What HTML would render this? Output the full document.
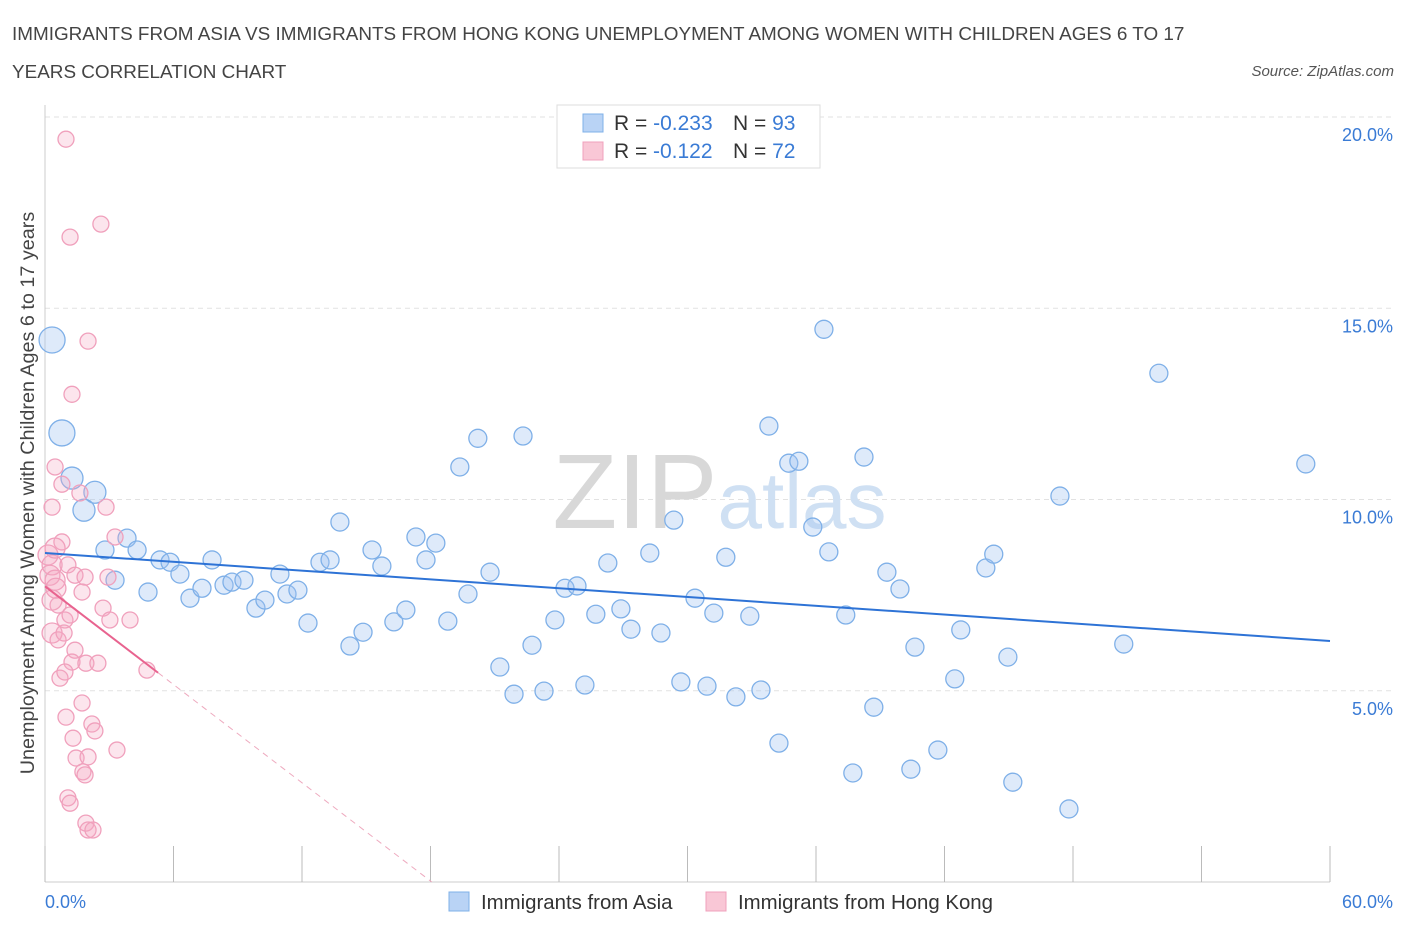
<!DOCTYPE html>
<html><head><meta charset="utf-8"><style>
body{margin:0;background:#fff;font-family:"Liberation Sans",sans-serif}
svg text{font-family:"Liberation Sans",sans-serif}
</style></head><body>
<svg id="c" width="1406" height="930">
<text x="12" y="40" font-size="18.9" fill="#444">IMMIGRANTS FROM ASIA VS IMMIGRANTS FROM HONG KONG UNEMPLOYMENT AMONG WOMEN WITH CHILDREN AGES 6 TO 17</text>
<text x="12" y="78" font-size="18.9" fill="#444">YEARS CORRELATION CHART</text>
<text x="1394" y="76" font-size="15" fill="#555" font-style="italic" text-anchor="end">Source: ZipAtlas.com</text>
<g id="grid"></g>
<text x="635" y="528" font-size="106" fill="#d8d8d8" font-family="Liberation Serif" text-anchor="middle">ZIP</text>
<text x="802" y="528" font-size="80" fill="#cfe0f3" text-anchor="middle">atlas</text>
<g id="marks"></g>
<text transform="translate(34,493) rotate(-90)" font-size="19.8" fill="#444" text-anchor="middle">Unemployment Among Women with Children Ages 6 to 17 years</text>
<text x="45" y="908" font-size="18" fill="#3a7bd5">0.0%</text>
<text x="1393" y="908" font-size="18" fill="#3a7bd5" text-anchor="end">60.0%</text>
<g>
<rect x="557" y="105" width="263" height="63" fill="#fff" stroke="#ddd"/>
<rect x="583" y="114" width="20" height="18" fill="#b9d3f5" stroke="#7fb0e8"/>
<rect x="583" y="142" width="20" height="18" fill="#f9c7d6" stroke="#f0a0bc"/>
<text x="614" y="130" font-size="21" fill="#333">R = <tspan fill="#3a7bd5">-0.233</tspan><tspan x="733">N = </tspan><tspan fill="#3a7bd5">93</tspan></text>
<text x="614" y="158" font-size="21" fill="#333">R = <tspan x="653" fill="#3a7bd5">-0.122</tspan><tspan x="733">N = </tspan><tspan fill="#3a7bd5">72</tspan></text>
</g>
<g>
<rect x="449" y="892" width="20" height="19" fill="#b9d3f5" stroke="#7fb0e8"/>
<text x="481" y="909" font-size="20.4" fill="#333">Immigrants from Asia</text>
<rect x="706" y="892" width="20" height="19" fill="#f9c7d6" stroke="#f0a0bc"/>
<text x="738" y="909" font-size="20.4" fill="#333">Immigrants from Hong Kong</text>
</g>
</svg>
<script>
const yTicks=[5,10,15,20];
const yTickLabels=["5.0%","10.0%","15.0%","20.0%"];
const xTicks=[0,6,12,18,24,30,36,42,48,54,60];
const asiaX=[0.33,0.79,1.26,2.33,1.82,2.80,3.83,3.27,4.30,4.81,5.37,5.84,6.30,6.77,7.33,7.80,8.36,8.73,9.29,9.85,10.27,10.97,11.30,11.81,12.28,12.84,13.31,13.77,14.24,14.85,15.27,15.73,16.29,16.85,17.32,17.79,18.25,18.81,19.37,19.75,20.21,20.78,21.24,21.90,22.32,22.74,23.30,23.81,24.28,24.84,25.21,25.72,26.28,26.89,27.36,28.24,28.76,29.36,29.69,30.35,30.91,31.23,31.79,32.26,32.91,33.43,33.80,34.27,34.73,35.20,35.85,36.37,36.60,37.39,37.72,38.24,38.70,39.31,39.92,40.62,40.43,41.69,42.48,42.76,43.93,44.30,44.96,45.19,47.39,47.81,50.37,52.01,58.87];
const asiaY=[14.17,11.74,10.56,10.19,9.72,8.68,8.99,7.89,8.68,7.58,8.42,8.36,8.05,7.42,7.68,8.42,7.76,7.84,7.89,7.16,7.37,8.05,7.53,7.63,6.77,8.36,8.42,9.41,6.17,6.53,8.68,8.26,6.80,7.11,9.02,8.42,8.86,6.82,10.85,7.53,11.60,8.10,5.62,4.91,11.66,6.19,4.99,6.85,7.68,7.74,5.15,7.00,8.34,7.14,6.61,8.60,6.51,9.46,5.23,7.42,5.12,7.03,8.49,4.84,6.95,5.02,11.92,3.63,10.95,11.00,9.28,14.45,8.63,6.98,2.85,11.11,4.57,8.10,7.66,6.14,2.95,3.45,5.31,6.59,8.21,8.57,5.88,2.61,10.09,1.91,6.22,13.30,10.93];
const hkX=[0.98,2.61,1.17,2.01,1.26,0.47,0.79,1.63,2.85,0.33,0.79,3.27,0.14,0.33,0.23,0.47,0.51,1.07,1.40,1.87,1.73,2.94,2.71,3.03,3.97,0.61,0.93,1.17,0.33,0.61,0.89,1.40,1.26,1.91,2.47,0.70,0.93,1.73,0.98,2.19,2.33,1.31,1.45,2.01,3.36,1.77,1.87,1.07,1.17,1.91,2.01,2.24,4.76,0.47,0.33];
const hkY=[19.42,17.20,16.86,14.14,12.75,10.85,10.40,10.17,9.80,9.80,8.89,9.02,8.55,8.29,8.02,7.89,7.68,8.29,8.02,7.97,7.58,7.97,7.16,6.85,6.85,7.24,6.85,6.98,6.51,6.33,6.51,6.06,5.75,5.72,5.72,5.33,5.49,4.68,4.31,4.13,3.95,3.76,3.24,3.27,3.45,2.88,2.80,2.20,2.06,1.54,1.36,1.36,5.54,8.73,7.37];
const asiaTrend=[8.6,-0.0383];
const hkTrend=[7.73,-0.428];
const X0=45,X1=1330,Y0=882,YTOP=117;
const sx=v=>X0+(X1-X0)*v/60;
const sy=v=>Y0-(Y0-YTOP)*v/20;
const NS="http://www.w3.org/2000/svg";
function mk(t,a,p){const e=document.createElementNS(NS,t);for(const k in a)e.setAttribute(k,a[k]);p.appendChild(e);return e;}
const grid=document.getElementById('grid'),marks=document.getElementById('marks'),svg=document.getElementById('c');
yTicks.forEach((v,i)=>{
 const l=mk('line',{x1:X0,x2:X1+65,y1:sy(v),y2:sy(v),stroke:'#e2e2e2','stroke-dasharray':'5,4'},grid);
 
 
 const t=mk('text',{x:1393,y:sy(v)+24,'font-size':18,fill:'#3a7bd5','text-anchor':'end'},svg);
 t.textContent=yTickLabels[i];
 
 
});
const ax=mk('line',{x1:X0,x2:X1,y1:Y0,y2:Y0,stroke:'#ccc'},grid);


const ay=mk('line',{x1:X0,x2:X0,y1:105,y2:Y0,stroke:'#ccc'},grid);


xTicks.forEach(v=>{
 const l=mk('line',{x1:sx(v),x2:sx(v),y1:Y0-36,y2:Y0,stroke:'#bbb'},grid);
 
 
});
asiaX.forEach((x,i)=>{
 const r=i<2?13:(i<5?11:9);
 const c=mk('circle',{cx:sx(x),cy:sy(asiaY[i]),r:r,fill:'rgba(160,196,240,0.35)',stroke:'#7fb0e8','stroke-width':1.3},marks);
 
 
});
hkX.forEach((x,i)=>{
 const r=(x<0.6&&hkY[i]>6&&hkY[i]<9)?10:8;
 const c=mk('circle',{cx:sx(x),cy:sy(hkY[i]),r:r,fill:'rgba(245,170,195,0.3)',stroke:'#f0a0bc','stroke-width':1.3},marks);
 
 
});
const bl=mk('line',{x1:sx(0),y1:sy(asiaTrend[0]),x2:sx(60),y2:sy(asiaTrend[0]+asiaTrend[1]*60),stroke:'#2e73d6','stroke-width':2},marks);


const xe=5.28,xz=-hkTrend[0]/hkTrend[1];
const pl=mk('line',{x1:sx(0),y1:sy(hkTrend[0]),x2:sx(xe),y2:sy(hkTrend[0]+hkTrend[1]*xe),stroke:'#e8638f','stroke-width':2},marks);


const pd=mk('line',{x1:sx(xe),y1:sy(hkTrend[0]+hkTrend[1]*xe),x2:sx(xz),y2:sy(0),stroke:'#eeaabf','stroke-width':1,'stroke-dasharray':'6,5'},marks);


</script>
</body></html>
